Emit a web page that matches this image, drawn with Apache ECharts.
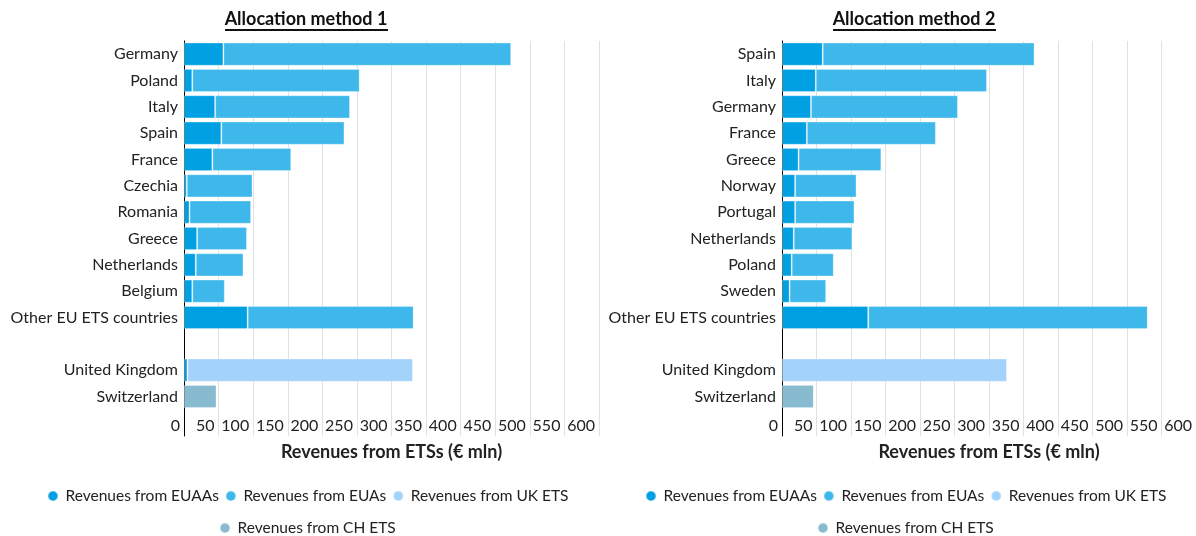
<!DOCTYPE html>
<html>
<head>
<meta charset="utf-8">
<script src="https://cdn.jsdelivr.net/npm/echarts@6/dist/echarts.min.js"></script>
<style>
  html, body { margin: 0; padding: 0; background: #fff; }
  #main { width: 1196px; height: 536px; }
</style>
</head>
<body>
<div id="main"></div>
<script>
var myChart = echarts.init(document.getElementById('main'));

// ' ' is the gap row, '  ' is the row that holds the tick labels
var countries1 = ['Germany', 'Poland', 'Italy', 'Spain', 'France', 'Czechia', 'Romania', 'Greece',
    'Netherlands', 'Belgium', 'Other EU ETS countries', ' ', 'United Kingdom', 'Switzerland', '  '];
var euaa1 = [57, 12, 45, 54, 41, 4, 8, 19, 17, 12, 92, '-', 5, '-', '-'];
var eua1 = [416, 242, 195, 178, 114, 95, 89, 72, 69, 47, 240, '-', '-', '-', '-'];
var ukEts1 = ['-', '-', '-', '-', '-', '-', '-', '-', '-', '-', '-', '-', 326, '-', '-'];
var chEts1 = ['-', '-', '-', '-', '-', '-', '-', '-', '-', '-', '-', '-', '-', 47, '-'];

var countries2 = ['Spain', 'Italy', 'Germany', 'France', 'Greece', 'Norway', 'Portugal', 'Netherlands',
    'Poland', 'Sweden', 'Other EU ETS countries', ' ', 'United Kingdom', 'Switzerland', '  '];
var euaa2 = [59, 49, 42, 36, 24, 19, 19, 17, 14, 11, 125, '-', '-', '-', '-'];
var eua2 = [307, 248, 213, 187, 120, 89, 86, 85, 61, 53, 405, '-', '-', '-', '-'];
var ukEts2 = ['-', '-', '-', '-', '-', '-', '-', '-', '-', '-', '-', '-', 326, '-', '-'];
var chEts2 = ['-', '-', '-', '-', '-', '-', '-', '-', '-', '-', '-', '-', '-', 46, '-'];

var seriesNames = ['Revenues from EUAAs', 'Revenues from EUAs', 'Revenues from UK ETS', 'Revenues from CH ETS'];
var colors = ['#00a0e2', '#3eb8ea', '#a3d2fb', '#89bbd0'];

var font = 'Lato, "Noto Sans", sans-serif';

function xAxis(idx) {
    return {
        type: 'value',
        gridIndex: idx,
        min: 0,
        max: 600,
        interval: 50,
        name: 'Revenues from ETSs (€ mln)',
        nameLocation: 'middle',
        nameGap: 7,
        nameTextStyle: {
            fontFamily: font,
            fontSize: 18,
            fontWeight: 'bold',
            color: '#222',
            verticalAlign: 'top'
        },
        axisLine: {show: false},
        axisTick: {show: false},
        axisLabel: {
            inside: true,
            margin: 2,
            align: 'right',
            padding: [0, 4, 0, 0],
            fontFamily: font,
            fontSize: 16,
            color: '#222',
            showMinLabel: true,
            showMaxLabel: true
        },
        splitLine: {lineStyle: {color: '#e1e1e1', width: 1}}
    };
}

function yAxis(idx, cats) {
    return {
        type: 'category',
        gridIndex: idx,
        data: cats,
        inverse: true,
        axisLine: {lineStyle: {color: '#000', width: 1}},
        axisTick: {show: false},
        axisLabel: {
            margin: 6,
            fontFamily: font,
            fontSize: 16,
            color: '#222'
        }
    };
}

function bars(idx, values) {
    return values.map(function (v, i) {
        return {
            name: seriesNames[i],
            type: 'bar',
            stack: 'total' + idx,
            xAxisIndex: idx,
            yAxisIndex: idx,
            data: v,
            barCategoryGap: '12%',
            itemStyle: {
                color: colors[i],
                borderColor: 'rgba(255,255,255,0.3)',
                borderWidth: 1
            }
        };
    });
}

function legend(left, top, names) {
    return {
        left: left,
        top: top,
        width: 580,
        data: names,
        icon: 'circle',
        itemWidth: 15,
        itemHeight: 10,
        itemGap: 6,
        selectedMode: false,
        textStyle: {fontFamily: font, fontSize: 15.5, color: '#222'}
    };
}

option = {
    animation: false,
    color: colors,
    grid: [
        {left: 184, width: 415, top: 41, height: 395},
        {left: 782, width: 414, top: 41, height: 395}
    ],
    xAxis: [xAxis(0), xAxis(1)],
    yAxis: [yAxis(0, countries1), yAxis(1, countries2)],
    legend: [
        legend(42, 483, seriesNames.slice(0, 3)),
        legend(214, 515, seriesNames.slice(3)),
        legend(640, 483, seriesNames.slice(0, 3)),
        legend(812, 515, seriesNames.slice(3))
    ],
    graphic: [
        {type: 'text', x: 306, y: 10,
            style: {text: 'Allocation method 1', fill: '#111', font: 'bold 18px ' + font, align: 'center'}},
        {type: 'line', shape: {x1: 225, y1: 30, x2: 388, y2: 30}, style: {stroke: '#111', lineWidth: 2}},
        {type: 'text', x: 914, y: 10,
            style: {text: 'Allocation method 2', fill: '#111', font: 'bold 18px ' + font, align: 'center'}},
        {type: 'line', shape: {x1: 833, y1: 30, x2: 996, y2: 30}, style: {stroke: '#111', lineWidth: 2}}
    ],
    series: bars(0, [euaa1, eua1, ukEts1, chEts1]).concat(bars(1, [euaa2, eua2, ukEts2, chEts2]))
};

myChart.setOption(option);
</script>
</body>
</html>
